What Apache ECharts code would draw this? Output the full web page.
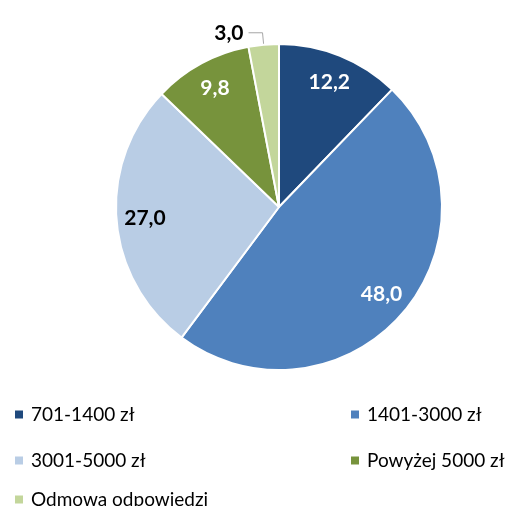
<!DOCTYPE html>
<html>
<head>
<meta charset="utf-8">
<script src="https://cdn.jsdelivr.net/npm/echarts@6/dist/echarts.min.js"></script>
<style>
    html, body { margin: 0; padding: 0; background: #fff; }
    #chart { width: 521px; height: 506px; }
</style>
</head>
<body>
<div id="chart"></div>
<script>
var categories = ['701-1400 zł', '1401-3000 zł', '3001-5000 zł', 'Powyżej 5000 zł', 'Odmowa odpowiedzi'];
var shares = [12.2, 48.0, 27.0, 9.8, 3.0];
var colors = ['#1F497D', '#4F81BD', '#B9CDE5', '#77933C', '#C3D69B'];
var labelColors = ['#fff', '#fff', '#000', '#fff', '#000'];

var font = 'Lato, "Noto Sans", sans-serif';
var center = [279, 207];

var chart = echarts.init(document.getElementById('chart'));

function fmt(v) {
    return v.toFixed(1).replace('.', ',');
}

// legend items placed one by one (two columns)
var legendPos = [
    { left: 8, top: 400 },
    { left: 344, top: 400 },
    { left: 8, top: 446 },
    { left: 344, top: 446 },
    { left: 8, top: 485 }
];
var legends = categories.map(function (name, i) {
    return {
        data: [name],
        left: legendPos[i].left,
        top: legendPos[i].top,
        icon: 'rect',
        itemWidth: 10,
        itemHeight: 10,
        selectedMode: false,
        textStyle: {
            fontFamily: font,
            fontSize: 19,
            color: '#000',
            padding: [0, 0, 0, 2]
        }
    };
});

chart.setOption({
    animation: false,
    color: colors,
    legend: legends,
    series: [
        {
            // slices
            name: 'pie',
            type: 'pie',
            center: center,
            radius: [0, 163],
            startAngle: 90,
            clockwise: true,
            silent: true,
            itemStyle: {
                borderColor: '#fff',
                borderWidth: 2
            },
            label: { show: false },
            labelLine: { show: false },
            data: categories.map(function (name, i) {
                return { name: name, value: shares[i] };
            })
        },
        {
            // labels, drawn on a ring so they sit near the rim
            name: 'labels',
            type: 'pie',
            center: center,
            radius: [100, 163],
            startAngle: 90,
            clockwise: true,
            silent: true,
            itemStyle: { color: 'rgba(0,0,0,0)' },
            data: categories.map(function (name, i) {
                var outside = i === 4;
                return {
                    name: name + ' ',
                    value: shares[i],
                    label: {
                        show: true,
                        position: outside ? 'outside' : 'inside',
                        formatter: fmt(shares[i]),
                        color: labelColors[i],
                        fontFamily: font,
                        fontWeight: 'bold',
                        fontSize: 21
                    },
                    labelLine: outside ? {
                        show: true,
                        length: 12,
                        length2: 14,
                        lineStyle: { color: '#A6A6A6', width: 1 }
                    } : { show: false }
                };
            })
        }
    ]
});
</script>
</body>
</html>
